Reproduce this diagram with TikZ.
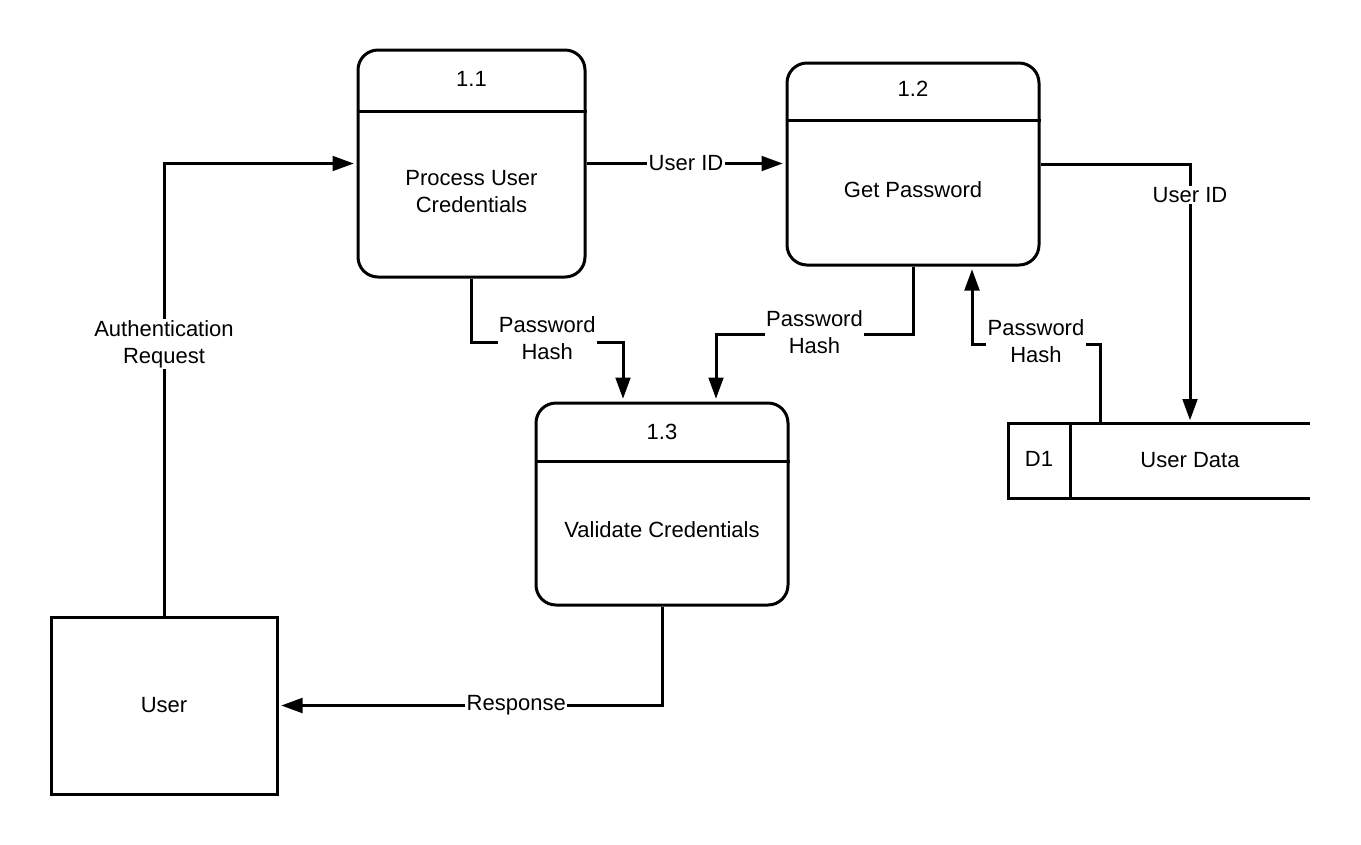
\documentclass[tikz,border=0pt]{standalone}
\usepackage{fontspec}
\setmainfont{Liberation Sans}
\usetikzlibrary{arrows.meta,positioning}

\def\px{0.75pt}

\begin{document}
\begin{tikzpicture}[x=\px,y=-\px,line width=2.25pt,
        font=\fontsize{16.5}{20.25}\selectfont,
        proc/.style 2 args={draw,rounded corners=15pt,minimum width=#1*\px,minimum height=#2*\px,inner sep=0pt},
        flow/.style={-{Triangle[length=16pt,width=11pt]},shorten >=2pt},
        lbl/.style={fill=white,inner sep=1pt,align=center}]
    \useasboundingbox (0,0) rectangle (1361,844);

    % processes
    \node[proc={227}{227}] (p11) at (471.5,163.5) {};
    \node[proc={252}{202}] (p12) at (913,164) {};
    \node[proc={252}{202}] (p13) at (662,504) {};
    \foreach \p/\d/\t/\n in {p11/63/30/1.1,p12/59/27/1.2,p13/60/30/1.3}{%
            \draw ([yshift=-\d*\px]\p.north west) -- ([yshift=-\d*\px]\p.north east);
            \node at ([yshift=-\t*\px]\p.north) {\n};
        }
    \node[align=center] (t11) at (471.5,192) {Process User\\Credentials};
    \node (t12) at (913,190) {Get Password};
    \node (t13) at (662,530) {Validate Credentials};

    % entity and data store
    \node[draw,minimum width=226*\px,minimum height=177*\px] (user) at (164,705.5) {User};
    \node[minimum width=240*\px,minimum height=75*\px,outer sep=0pt] (ds) at (1190,460.5) {\raisebox{1.5pt}{User Data}};
    \node (d1) at (1039,459) {D1};
    \draw (ds.north east) -| ([xshift=-62*\px]ds.south west) -- (ds.south east);
    \draw (ds.north west) -- (ds.south west);

    % flows
    \draw[flow] (user.north) |- node[lbl,pos=0.3] {Authentication\\Request} (p11.west);
    \draw[flow] (p11.east) -- node[lbl] {User ID} (p11.east -| p12.west);
    \draw[flow] (p12.east) -| node[lbl,pos=0.56] {User ID} (ds.north);
    \draw[flow] (p11.south) -- ++(0,64) -| node[lbl,pos=0.25,yshift=3pt] {Password\\Hash} ([xshift=-39*\px]p13.north);
    \draw[flow] (p12.south) -- ++(0,68) -| node[lbl,pos=0.25,yshift=2pt] {Password\\Hash} ([xshift=54*\px]p13.north);
    \draw[flow] ([xshift=-90*\px]ds.north) -- ++(0,-79) -| node[lbl,pos=0.25,yshift=2pt] {Password\\Hash} ([xshift=59*\px]p12.south);
    \draw[flow] (p13.south) |- node[lbl,pos=0.69] {Response} (user.east);
\end{tikzpicture}
\end{document}
